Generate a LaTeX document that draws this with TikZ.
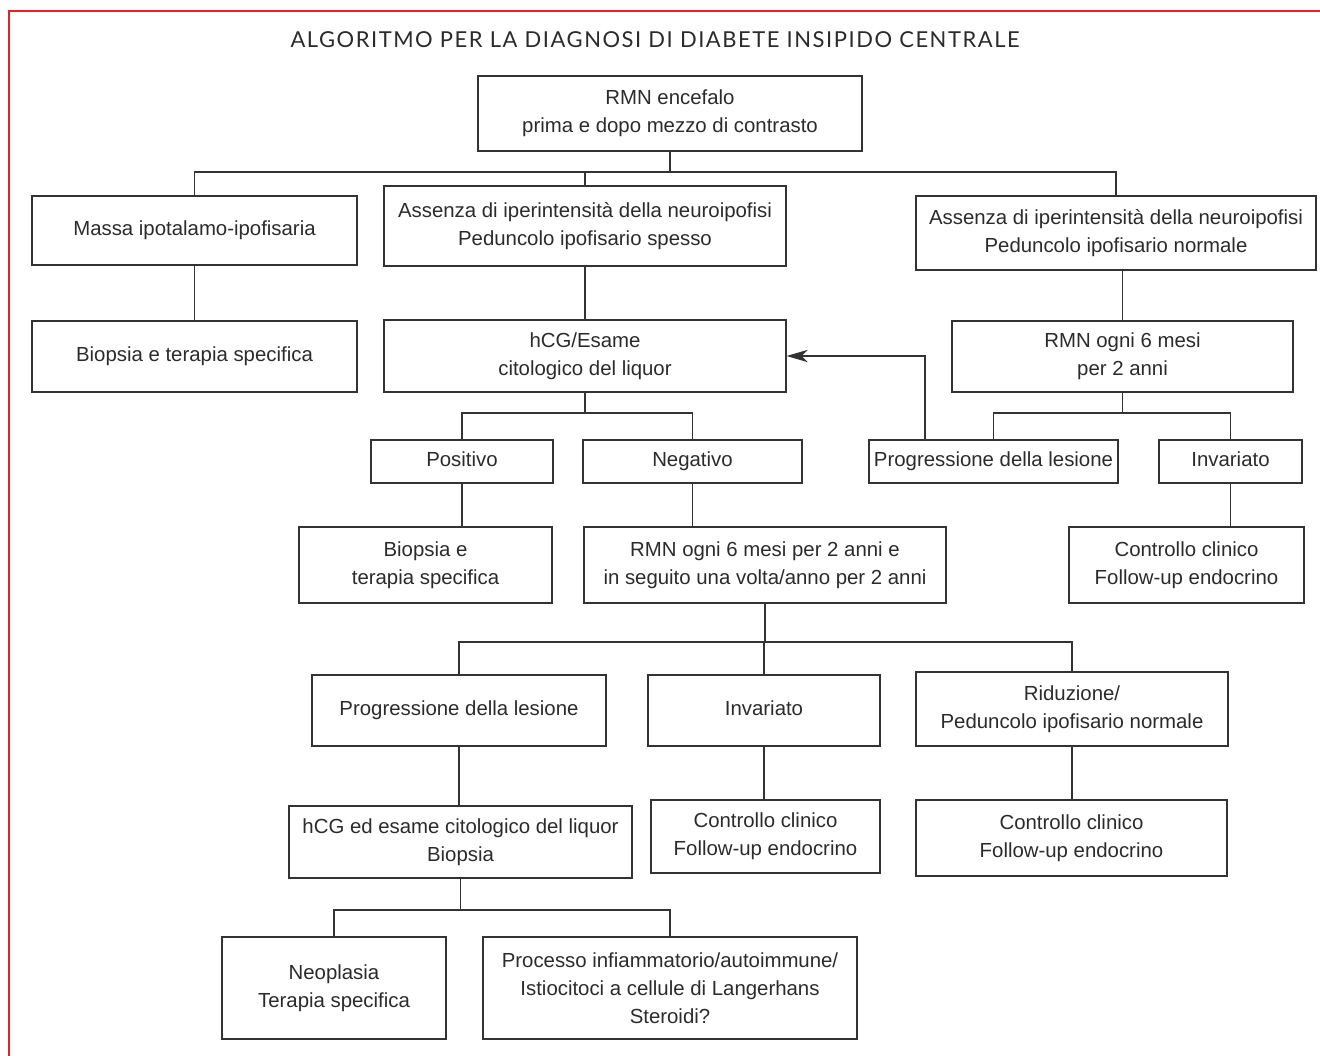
\documentclass[tikz,border=0pt]{standalone}
\usepackage{fontspec}
\setmainfont{Liberation Sans}
\newfontfamily\titlefont[LetterSpace=7]{Lato}
\usetikzlibrary{arrows.meta}

\definecolor{bordo}{HTML}{EE1C25}
\definecolor{testo}{HTML}{2B2B2B}

\tikzset{
  box/.style={draw=black!80, line width=0.7pt, align=center, inner sep=1pt,
    text=testo, font=\fontsize{11.6}{15.8}\selectfont},
  riga/.style={box, text height=1.6ex, text depth=0.45ex},
  link/.style={draw=black!80, line width=0.7pt},
  arr/.style={link, -{Stealth[length=12pt, width=7pt, inset=3.5pt]}}
}

\begin{document}
\begin{tikzpicture}[x=0.02cm, y=-0.02cm]

\useasboundingbox (0,0) rectangle (1320,1056);

% Cornice
\draw[bordo, line width=1.2pt] (9,1056) -- (9,11) -- (1320,11);

% Titolo
\node[text=testo, font=\titlefont\fontsize{12.5}{14}\selectfont] (titolo) at (655,40)
{ALGORITMO PER LA DIAGNOSI DI DIABETE INSIPIDO CENTRALE};

% Primo livello
\node[box, minimum width=7.68cm, minimum height=1.5cm] (rmn) at (670,113.5)
{RMN encefalo\\prima e dopo mezzo di contrasto};

\node[riga, minimum width=6.5cm, minimum height=1.38cm] (massa) at (194.5,230.5)
{Massa ipotalamo-ipofisaria};
\node[box, minimum width=8.04cm, minimum height=1.6cm] (spesso) at (585,226)
{Assenza di iperintensità della neuroipofisi\\Peduncolo ipofisario spesso};
\node[box, minimum width=8cm, minimum height=1.48cm] (normale) at (1116,233)
{Assenza di iperintensità della neuroipofisi\\Peduncolo ipofisario normale};

% Secondo livello
\node[riga, minimum width=6.5cm, minimum height=1.42cm] (biopsiaA) at (194.5,356.5)
{Biopsia e terapia specifica};
\node[box, minimum width=8.04cm, minimum height=1.44cm] (hcg) at (585,356)
{hCG/Esame\\citologico del liquor};
\node[box, minimum width=6.82cm, minimum height=1.42cm] (rmnsei) at (1122.5,356.5)
{RMN ogni 6 mesi\\per 2 anni};

% Esiti
\node[riga, minimum width=3.64cm, minimum height=0.86cm] (pos) at (462,461.5)
{Positivo};
\node[riga, minimum width=4.38cm, minimum height=0.86cm] (neg) at (692.5,461.5)
{Negativo};
\node[riga, minimum width=4.98cm, minimum height=0.86cm] (progr) at (993.5,461.5)
{Progressione della lesione};
\node[riga, minimum width=2.86cm, minimum height=0.86cm] (invr) at (1230.5,461.5)
{Invariato};

\node[box, minimum width=5.06cm, minimum height=1.52cm] (biopsiaB) at (425.5,565)
{Biopsia e\\terapia specifica};
\node[box, minimum width=7.24cm, minimum height=1.52cm] (rmnlungo) at (765,565)
{RMN ogni 6 mesi per 2 anni e\\in seguito una volta/anno per 2 anni};
\node[box, minimum width=4.7cm, minimum height=1.52cm] (ctrlA) at (1186.5,565)
{Controllo clinico\\Follow-up endocrino};

% Controllo
\node[riga, minimum width=5.88cm, minimum height=1.42cm] (progm) at (459,710.5)
{Progressione della lesione};
\node[riga, minimum width=4.64cm, minimum height=1.42cm] (invm) at (764,710.5)
{Invariato};
\node[box, minimum width=6.24cm, minimum height=1.48cm] (riduz) at (1072,709)
{Riduzione/\\Peduncolo ipofisario normale};

\node[box, minimum width=6.86cm, minimum height=1.44cm] (hcgb) at (460.5,842)
{hCG ed esame citologico del liquor\\Biopsia};
\node[box, minimum width=4.58cm, minimum height=1.46cm] (ctrlB) at (765.5,836.5)
{Controllo clinico\\Follow-up endocrino};
\node[box, minimum width=6.22cm, minimum height=1.52cm] (ctrlC) at (1071.5,838)
{Controllo clinico\\Follow-up endocrino};

% Diagnosi finale
\node[box, minimum width=4.48cm, minimum height=2.04cm] (neop) at (334,988)
{Neoplasia\\Terapia specifica};
\node[box, minimum width=7.48cm, minimum height=2.04cm] (proc) at (670,988)
{Processo infiammatorio/autoimmune/\\Istiocitoci a cellule di Langerhans\\Steroidi?};

% Diramazioni
\coordinate (j1) at (670,172);
\coordinate (j2) at (585,413);
\coordinate (j3) at (1122.5,413);
\coordinate (j4) at (765,642);
\coordinate (j5) at (460.5,910);
\coordinate (ar) at (925,440);

\draw[link] (rmn.south) -- (j1);
\draw[link] (massa.north) |- (j1) -| (normale.north);
\draw[link] (spesso.north) -- (spesso.north |- j1);

\draw[link] (massa) -- (biopsiaA);
\draw[link] (spesso) -- (hcg);
\draw[link] (rmnsei.north) -- (rmnsei.north |- normale.south);

\draw[link] (hcg.south) -- (j2);
\draw[link] (pos.north) |- (j2) -| (neg.north);
\draw[link] (rmnsei.south) -- (j3);
\draw[link] (progr.north) |- (j3) -| (invr.north);

% Freccia
\draw[arr] (ar) |- (hcg.east);

\foreach \a/\b in {pos/biopsiaB, neg/rmnlungo, invr/ctrlA}
  \draw[link] (\a.south) -- (\a.south |- \b.north);

\draw[link] (rmnlungo.south) -- (j4);
\draw[link] (progm.north) |- (j4) -| (riduz.north);
\draw[link] (invm.north) -- (invm.north |- j4);

\foreach \a/\b in {progm/hcgb, invm/ctrlB, riduz/ctrlC}
  \draw[link] (\a.south) -- (\a.south |- \b.north);

\draw[link] (hcgb.south) -- (j5);
\draw[link] (neop.north) |- (j5) -| (proc.north);

\end{tikzpicture}
\end{document}
